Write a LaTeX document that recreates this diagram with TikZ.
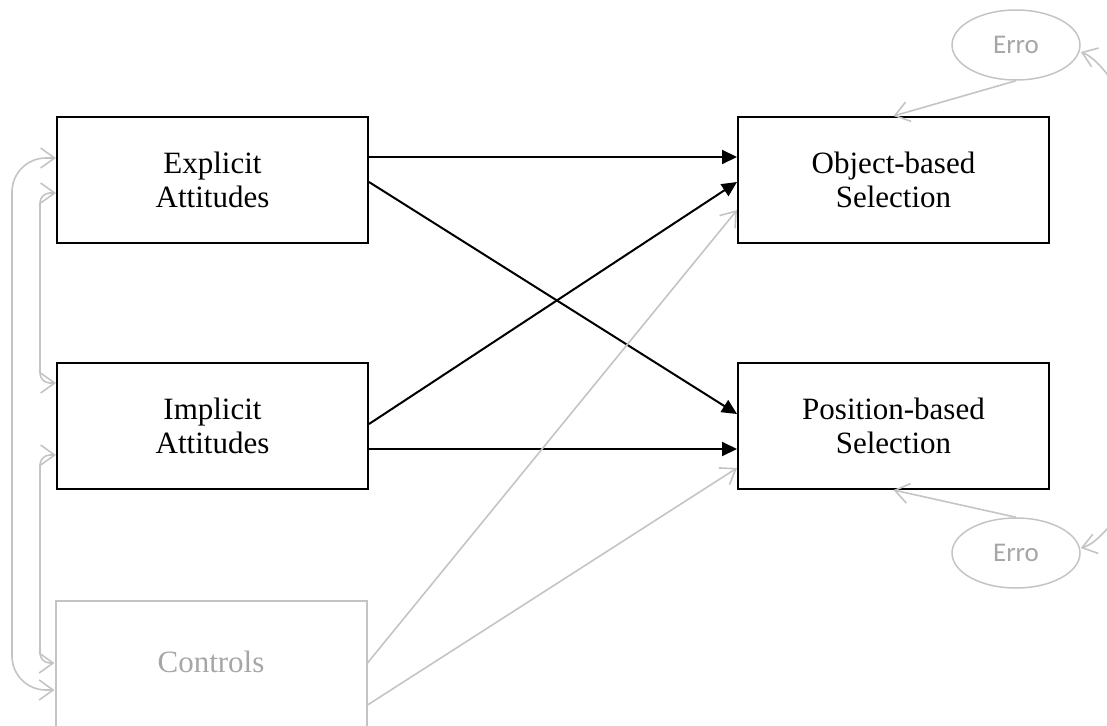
\documentclass[tikz,border=0pt]{standalone}
\usepackage{fontspec}
\setmainfont{Liberation Serif}
\newfontfamily\errfont{Carlito}
\usetikzlibrary{arrows.meta,shapes.geometric}
\definecolor{lg}{HTML}{C4C4C4}
\definecolor{tg}{HTML}{A6A6A6}
\begin{document}
\begin{tikzpicture}[x=1pt,y=-1pt,
  box/.style={draw=black,line width=2pt,minimum width=311pt,minimum height=126pt,inner sep=0pt,align=center,font=\fontsize{31}{34}\selectfont},
  gbox/.style={box,draw=lg,text=tg},
  err/.style={ellipse,draw=lg,line width=1.5pt,minimum width=128pt,minimum height=70pt,inner sep=0pt,text=tg,font=\errfont\fontsize{27}{30}\selectfont},
  barr/.style={-{Triangle[length=15pt,width=14pt]},line width=2pt,draw=black},
  garr/.style={-{Straight Barb[length=14pt,width=20pt]},line width=1.6pt,draw=lg},
  garrb/.style={{Straight Barb[length=14pt,width=20pt]}-{Straight Barb[length=14pt,width=20pt]},line width=1.6pt,draw=lg}
]
\useasboundingbox (0,0) rectangle (1107,725);
\clip (0,0) rectangle (1107,725);

\node[box] (exp) at (212.5,180) {Explicit\\Attitudes};
\node[box] (imp) at (212.5,426) {Implicit\\Attitudes};
\node[gbox] (con) at (211,664) {\raisebox{4pt}{Controls}};
\node[box] (obj) at (893.5,180) {Object-based\\Selection};
\node[box] (pos) at (893.5,426) {Position-based\\Selection};
\node[err] (e1) at (1016,45) {\raisebox{-3pt}{Erro}};
\node[err] (e2) at (1016,553) {\raisebox{-3pt}{Erro}};

% structural paths
\draw[barr] ([yshift=23pt]exp.east) -- ([yshift=23pt]obj.west);
\draw[barr] ([yshift=-2pt]exp.east) -- ([yshift=12pt]pos.west);
\draw[barr] ([yshift=2pt]imp.east) -- ([yshift=-2pt]obj.west);
\draw[barr] ([yshift=-23pt]imp.east) -- ([yshift=-23pt]pos.west);
\draw[garr] ([yshift=1pt]con.east) -- ([yshift=-30pt]obj.west);
\draw[garr] ([yshift=-41pt]con.east) -- ([yshift=-42pt]pos.west);

% covariances
\draw[garrb, rounded corners=34pt] ([yshift=22pt]exp.west) -| (12,400) |- ([yshift=-26pt]con.west);
\draw[garrb, rounded corners=10pt] ([yshift=-13pt]exp.west) -| (40,300) |- ([yshift=43pt]imp.west);
\draw[garrb, rounded corners=10pt] ([yshift=-29pt]imp.west) -| (40,550) |- ([yshift=1pt]con.west);

% errors
\draw[garr] (e1.south) -- (obj.north);
\draw[garr] (e2.north) -- (pos.south);
\coordinate (l1) at (1150,130);
\coordinate (l2) at (1150,480);
\draw[garr] (l1) .. controls (1118,92) and (1102,60) .. ([yshift=-7pt]e1.east);
\draw[garr] (l2) .. controls (1118,512) and (1102,542) .. ([yshift=5pt]e2.east);
\end{tikzpicture}
\end{document}
